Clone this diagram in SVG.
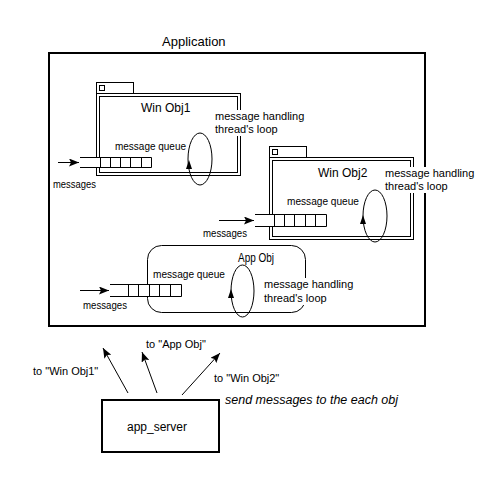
<svg xmlns="http://www.w3.org/2000/svg" width="480" height="497" viewBox="0 0 480 497">
<style>
.t{font-family:"Liberation Sans",Arial,sans-serif;font-size:11px;fill:#000}
.ti{font-size:12px}
.ln{fill:none;stroke:#000;stroke-width:1}
.bold{fill:none;stroke:#000;stroke-width:2}
.bg{fill:#fff;stroke:none}
.head{fill:#000;stroke:none}
.conn{fill:none;stroke:#000;stroke-width:1}
</style>
<defs>
<marker id="ah" markerUnits="userSpaceOnUse" markerWidth="10" markerHeight="8" refX="10" refY="4" orient="auto">
<path d="M0,0 L10,4 L0,8 L2,4 z" fill="#000"/>
</marker>
</defs>
<rect width="480" height="497" fill="#fff"/>

<g id="application">
<rect class="bold" x="49" y="53" width="376" height="273"/>
<text class="t" x="162" y="46" style="font-size:13px">Application</text>
</g>

<g id="win-obj1">
<rect class="ln" x="96.5" y="82.5" width="37" height="11"/>
<rect class="ln" x="99.5" y="85.5" width="5" height="5"/>
<rect class="ln" fill="#fff" x="96.5" y="93.5" width="144" height="82"/>
<rect class="ln" x="99.5" y="96.5" width="138" height="76"/>
<text class="t ti" x="141" y="112">Win Obj1</text>
<text class="t" x="115" y="150" textLength="71" lengthAdjust="spacingAndGlyphs">message queue</text>
<rect class="bg" x="80" y="157" width="71" height="11"/>
<path class="ln" d="M80,157.5 H151.5 M80,167.5 H151.5 M100.5,157.5 V167.5 M110.5,157.5 V167.5 M120.5,157.5 V167.5 M130.5,157.5 V167.5 M141.5,157.5 V167.5 M151.5,157.5 V167.5"/>
<ellipse class="ln" cx="200" cy="159" rx="12" ry="26"/>
<polygon class="head" points="189,160 186,169 192,169"/>
<rect class="bg" x="214" y="110" width="92" height="26"/>
<text class="t" x="215" y="120">message handling</text>
<text class="t" x="215" y="133">thread's loop</text>
<text class="t" x="53" y="188" textLength="43" lengthAdjust="spacingAndGlyphs">messages</text>
</g>

<g id="win-obj2">
<rect class="ln" x="269.5" y="146.5" width="37" height="11"/>
<rect class="ln" x="272.5" y="149.5" width="5" height="5"/>
<rect class="ln" fill="#fff" x="269.5" y="157.5" width="144" height="82"/>
<rect class="ln" x="272.5" y="160.5" width="138" height="76"/>
<text class="t ti" x="318" y="177">Win Obj2</text>
<text class="t" x="287" y="205" textLength="72" lengthAdjust="spacingAndGlyphs">message queue</text>
<rect class="bg" x="255" y="214" width="71" height="12"/>
<path class="ln" d="M255,214.5 H326.5 M255,226.5 H326.5 M274.5,214.5 V226.5 M284.5,214.5 V226.5 M294.5,214.5 V226.5 M305.5,214.5 V226.5 M315.5,214.5 V226.5 M326.5,214.5 V226.5"/>
<ellipse class="ln" cx="375" cy="216" rx="12" ry="26"/>
<polygon class="head" points="363,215 360,224 366,224"/>
<rect class="bg" x="384" y="167" width="92" height="26"/>
<text class="t" x="385" y="177">message handling</text>
<text class="t" x="385" y="190">thread's loop</text>
<text class="t" x="203" y="237" textLength="44" lengthAdjust="spacingAndGlyphs">messages</text>
</g>

<g id="app-obj">
<rect class="ln" x="147.5" y="245.5" width="158" height="67" rx="14" ry="14"/>
<text class="t ti" x="238" y="262" textLength="36" lengthAdjust="spacingAndGlyphs">App Obj</text>
<text class="t" x="153" y="278" textLength="72" lengthAdjust="spacingAndGlyphs">message queue</text>
<rect class="bg" x="110" y="284" width="71" height="12"/>
<path class="ln" d="M110,284.5 H181.5 M110,296.5 H181.5 M128.5,284.5 V296.5 M138.5,284.5 V296.5 M149.5,284.5 V296.5 M159.5,284.5 V296.5 M170.5,284.5 V296.5 M181.5,284.5 V296.5"/>
<ellipse class="ln" cx="242.5" cy="291" rx="11.5" ry="26"/>
<polygon class="head" points="231,289 228,298 234,298"/>
<rect class="bg" x="263" y="278" width="90" height="27"/>
<text class="t" x="264" y="288">message handling</text>
<text class="t" x="264" y="302">thread's loop</text>
<text class="t" x="83" y="309" textLength="44" lengthAdjust="spacingAndGlyphs">messages</text>
</g>

<g id="app-server">
<rect class="bold" x="102" y="400" width="117" height="52"/>
<text class="t ti" x="127" y="431">app_server</text>
<text class="t" x="225" y="404" style="font-size:12.5px;font-style:italic">send messages to the each obj</text>
</g>

<g id="connectors">
<line class="conn" x1="58" y1="162.5" x2="79" y2="162.5" marker-end="url(#ah)"/>
<line class="conn" x1="219" y1="220.5" x2="254" y2="220.5" marker-end="url(#ah)"/>
<line class="conn" x1="80" y1="290.5" x2="109" y2="290.5" marker-end="url(#ah)"/>
<line class="conn" x1="128" y1="393" x2="103" y2="348" marker-end="url(#ah)"/>
<line class="conn" x1="157" y1="393" x2="142" y2="352" marker-end="url(#ah)"/>
<line class="conn" x1="182" y1="395" x2="220" y2="353" marker-end="url(#ah)"/>
<text class="t" x="33" y="375">to "Win Obj1"</text>
<text class="t" x="146" y="348">to "App Obj"</text>
<text class="t" x="214" y="382">to "Win Obj2"</text>
</g>
</svg>
